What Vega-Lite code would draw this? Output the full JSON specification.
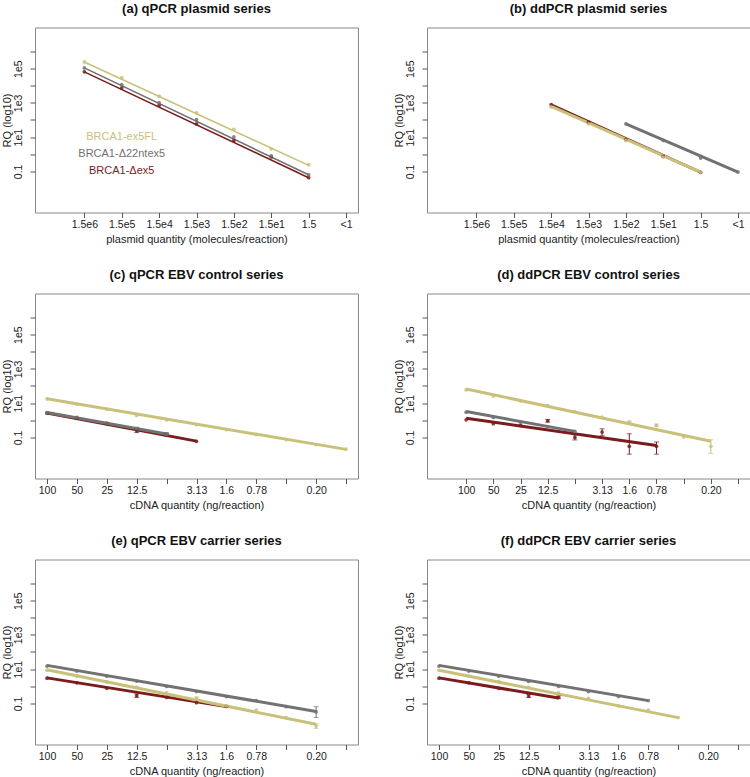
{
"$schema": "https://vega.github.io/schema/vega-lite/v6.json",
"padding": {"left": 0, "top": 1.5, "right": 0, "bottom": 0},
"background": "white",
"spacing": {"row": 22, "column": 33},
"columns": 2,
"datasets": {
"pts": [
{"p":"a","s":"k1","x":1,"y":64600},{"p":"a","s":"k1","x":2,"y":7410},{"p":"a","s":"k1","x":3,"y":724},{"p":"a","s":"k1","x":4,"y":58.9},{"p":"a","s":"k1","x":5,"y":6.46},{"p":"a","s":"k1","x":6,"y":0.692},{"p":"a","s":"k1","x":7,"y":0.0427},
{"p":"a","s":"k2","x":1,"y":110000},{"p":"a","s":"k2","x":2,"y":11500},{"p":"a","s":"k2","x":3,"y":1020},{"p":"a","s":"k2","x":4,"y":105},{"p":"a","s":"k2","x":5,"y":10.2},{"p":"a","s":"k2","x":6,"y":0.794},{"p":"a","s":"k2","x":7,"y":0.063},
{"p":"a","s":"k3","x":1,"y":245000},{"p":"a","s":"k3","x":2,"y":29500},{"p":"a","s":"k3","x":3,"y":2510},{"p":"a","s":"k3","x":4,"y":257},{"p":"a","s":"k3","x":5,"y":28.8},{"p":"a","s":"k3","x":6,"y":2.09},{"p":"a","s":"k3","x":7,"y":0.245},
{"p":"b","s":"k1","x":3,"y":780},{"p":"b","s":"k1","x":4,"y":75},{"p":"b","s":"k1","x":5,"y":7.2},{"p":"b","s":"k1","x":6,"y":0.75},{"p":"b","s":"k1","x":7,"y":0.089},
{"p":"b","s":"k2","x":5,"y":60.3},{"p":"b","s":"k2","x":6,"y":6.46},{"p":"b","s":"k2","x":7,"y":0.603},{"p":"b","s":"k2","x":8,"y":0.0912},
{"p":"b","s":"k3","x":3,"y":575},{"p":"b","s":"k3","x":4,"y":60.3},{"p":"b","s":"k3","x":5,"y":6.46},{"p":"b","s":"k3","x":6,"y":0.692},{"p":"b","s":"k3","x":7,"y":0.0912},
{"p":"c","s":"k1","x":1,"y":2.57},{"p":"c","s":"k1","x":2,"y":1.32},{"p":"c","s":"k1","x":3,"y":0.631},{"p":"c","s":"k1","x":4,"y":0.245},{"p":"c","s":"k1","x":5,"y":0.145},{"p":"c","s":"k1","x":6,"y":0.0589},
{"p":"c","s":"k2","x":1,"y":2.82},{"p":"c","s":"k2","x":2,"y":1.45},{"p":"c","s":"k2","x":3,"y":0.676},{"p":"c","s":"k2","x":4,"y":0.324},{"p":"c","s":"k2","x":5,"y":0.155},
{"p":"c","s":"k3","x":1,"y":17.8},{"p":"c","s":"k3","x":2,"y":8.71},{"p":"c","s":"k3","x":3,"y":4.47},{"p":"c","s":"k3","x":4,"y":1.91},{"p":"c","s":"k3","x":5,"y":1.07},{"p":"c","s":"k3","x":6,"y":0.55},{"p":"c","s":"k3","x":7,"y":0.282},{"p":"c","s":"k3","x":8,"y":0.145},{"p":"c","s":"k3","x":9,"y":0.0741},{"p":"c","s":"k3","x":10,"y":0.038},{"p":"c","s":"k3","x":11,"y":0.0209},
{"p":"d","s":"k1","x":1,"y":1.07},{"p":"d","s":"k1","x":2,"y":0.631},{"p":"d","s":"k1","x":3,"y":0.501},{"p":"d","s":"k1","x":4,"y":0.933},{"p":"d","s":"k1","x":5,"y":0.1},{"p":"d","s":"k1","x":6,"y":0.204},{"p":"d","s":"k1","x":7,"y":0.0302},{"p":"d","s":"k1","x":8,"y":0.0302},
{"p":"d","s":"k2","x":1,"y":2.95},{"p":"d","s":"k2","x":2,"y":1.45},{"p":"d","s":"k2","x":3,"y":0.776},{"p":"d","s":"k2","x":4,"y":0.417},{"p":"d","s":"k2","x":5,"y":0.224},
{"p":"d","s":"k3","x":1,"y":58.9},{"p":"d","s":"k3","x":2,"y":26.3},{"p":"d","s":"k3","x":3,"y":13.5},{"p":"d","s":"k3","x":4,"y":7.24},{"p":"d","s":"k3","x":5,"y":3.24},{"p":"d","s":"k3","x":6,"y":1.51},{"p":"d","s":"k3","x":7,"y":0.776},{"p":"d","s":"k3","x":8,"y":0.501},{"p":"d","s":"k3","x":9,"y":0.105},{"p":"d","s":"k3","x":10,"y":0.0302},
{"p":"e","s":"k1","x":1,"y":2.95},{"p":"e","s":"k1","x":2,"y":1.58},{"p":"e","s":"k1","x":3,"y":0.759},{"p":"e","s":"k1","x":4,"y":0.282},{"p":"e","s":"k1","x":5,"y":0.224},{"p":"e","s":"k1","x":6,"y":0.11},{"p":"e","s":"k1","x":7,"y":0.0661},
{"p":"e","s":"k2","x":1,"y":15.1},{"p":"e","s":"k2","x":2,"y":7.76},{"p":"e","s":"k2","x":3,"y":3.89},{"p":"e","s":"k2","x":4,"y":2.0},{"p":"e","s":"k2","x":5,"y":0.977},{"p":"e","s":"k2","x":6,"y":0.49},{"p":"e","s":"k2","x":7,"y":0.251},{"p":"e","s":"k2","x":8,"y":0.145},{"p":"e","s":"k2","x":9,"y":0.0646},{"p":"e","s":"k2","x":10,"y":0.0324},
{"p":"e","s":"k3","x":1,"y":8.51},{"p":"e","s":"k3","x":2,"y":3.89},{"p":"e","s":"k3","x":3,"y":1.78},{"p":"e","s":"k3","x":4,"y":0.891},{"p":"e","s":"k3","x":5,"y":0.407},{"p":"e","s":"k3","x":6,"y":0.195},{"p":"e","s":"k3","x":7,"y":0.0724},{"p":"e","s":"k3","x":8,"y":0.0407},{"p":"e","s":"k3","x":9,"y":0.0148},{"p":"e","s":"k3","x":10,"y":0.00479},
{"p":"f","s":"k1","x":1,"y":2.95},{"p":"f","s":"k1","x":2,"y":1.58},{"p":"f","s":"k1","x":3,"y":0.759},{"p":"f","s":"k1","x":4,"y":0.269},{"p":"f","s":"k1","x":5,"y":0.224},
{"p":"f","s":"k2","x":1,"y":15.1},{"p":"f","s":"k2","x":2,"y":7.76},{"p":"f","s":"k2","x":3,"y":3.89},{"p":"f","s":"k2","x":4,"y":1.91},{"p":"f","s":"k2","x":5,"y":0.977},{"p":"f","s":"k2","x":6,"y":0.49},{"p":"f","s":"k2","x":7,"y":0.251},{"p":"f","s":"k2","x":8,"y":0.145},
{"p":"f","s":"k3","x":1,"y":8.51},{"p":"f","s":"k3","x":2,"y":3.89},{"p":"f","s":"k3","x":3,"y":1.91},{"p":"f","s":"k3","x":4,"y":0.871},{"p":"f","s":"k3","x":5,"y":0.407},{"p":"f","s":"k3","x":6,"y":0.195},{"p":"f","s":"k3","x":7,"y":0.0724},{"p":"f","s":"k3","x":8,"y":0.0407},{"p":"f","s":"k3","x":9,"y":0.0148}
],
"fit": [
{"p":"a","s":"k1","x":1,"y":64600},{"p":"a","s":"k1","x":7,"y":0.0427},
{"p":"a","s":"k2","x":1,"y":110000},{"p":"a","s":"k2","x":7,"y":0.063},
{"p":"a","s":"k3","x":1,"y":245000},{"p":"a","s":"k3","x":7,"y":0.224},
{"p":"b","s":"k1","x":3,"y":760},{"p":"b","s":"k1","x":7,"y":0.0891},
{"p":"b","s":"k2","x":5,"y":60.3},{"p":"b","s":"k2","x":8,"y":0.0912},
{"p":"b","s":"k3","x":3,"y":631},{"p":"b","s":"k3","x":7,"y":0.0912},
{"p":"c","s":"k1","x":1,"y":2.63},{"p":"c","s":"k1","x":6,"y":0.0603},
{"p":"c","s":"k2","x":1,"y":2.82},{"p":"c","s":"k2","x":5,"y":0.158},
{"p":"c","s":"k3","x":1,"y":17.8},{"p":"c","s":"k3","x":11,"y":0.02},
{"p":"d","s":"k1","x":1,"y":1.32},{"p":"d","s":"k1","x":8,"y":0.0339},
{"p":"d","s":"k2","x":1,"y":3.24},{"p":"d","s":"k2","x":5,"y":0.224},
{"p":"d","s":"k3","x":1,"y":67.6},{"p":"d","s":"k3","x":10,"y":0.0589},
{"p":"e","s":"k1","x":1,"y":3.09},{"p":"e","s":"k1","x":7,"y":0.0646},
{"p":"e","s":"k2","x":1,"y":16.6},{"p":"e","s":"k2","x":10,"y":0.034},
{"p":"e","s":"k3","x":1,"y":9.12},{"p":"e","s":"k3","x":10,"y":0.00603},
{"p":"f","s":"k1","x":1,"y":3.09},{"p":"f","s":"k1","x":5,"y":0.204},
{"p":"f","s":"k2","x":1,"y":16.6},{"p":"f","s":"k2","x":8,"y":0.145},
{"p":"f","s":"k3","x":1,"y":8.51},{"p":"f","s":"k3","x":9,"y":0.0148}
],
"err": [
{"p":"c","s":"k1","x":4,"y":0.19,"y2":0.31},{"p":"c","s":"k1","x":5,"y":0.12,"y2":0.17},{"p":"c","s":"k2","x":4,"y":0.27,"y2":0.39},{"p":"c","s":"k2","x":5,"y":0.13,"y2":0.19},
{"p":"d","s":"k1","x":4,"y":0.78,"y2":1.12},{"p":"d","s":"k1","x":5,"y":0.0708,"y2":0.141},{"p":"d","s":"k1","x":6,"y":0.126,"y2":0.316},{"p":"d","s":"k1","x":7,"y":0.0105,"y2":0.162},{"p":"d","s":"k1","x":8,"y":0.0105,"y2":0.0537},
{"p":"d","s":"k3","x":7,"y":0.63,"y2":0.89},{"p":"d","s":"k3","x":8,"y":0.42,"y2":0.6},{"p":"d","s":"k3","x":10,"y":0.0117,"y2":0.0724},
{"p":"e","s":"k1","x":4,"y":0.224,"y2":0.355},{"p":"e","s":"k2","x":10,"y":0.0151,"y2":0.0646},{"p":"e","s":"k3","x":6,"y":0.16,"y2":0.24},{"p":"e","s":"k3","x":10,"y":0.0035,"y2":0.0063},
{"p":"f","s":"k1","x":4,"y":0.22,"y2":0.33},{"p":"f","s":"k1","x":5,"y":0.19,"y2":0.27}
],
"leg": [
{"p":"a","s":"k3","x":2,"y":10,"label":"BRCA1-ex5FL"},
{"p":"a","s":"k2","x":2,"y":1,"label":"BRCA1-Δ22ntex5"},
{"p":"a","s":"k1","x":2,"y":0.1,"label":"BRCA1-Δex5"}
]
},
"concat": [
{
"title": "(a) qPCR plasmid series", "width": 323, "height": 185,
"encoding": {
"x": {"field":"x","type":"quantitative","scale":{"domain":[-0.32,8.32],"nice":false,"zero":false},"axis":{"values":[1,2,3,4,5,6,7,8],"labelExpr":"['1.5e6','1.5e5','1.5e4','1.5e3','1.5e2','1.5e1','1.5','<1'][datum.value-1]","title":"plasmid quantity (molecules/reaction)"}},
"y": {"field":"y","type":"quantitative","title":"RQ (log10)","scale":{"type":"log","domain":[0.000398,25118864],"nice":false},"axis":{"values":[0.1,1,10,100,1000,10000,100000,1000000],"labelExpr":"datum.value==0.1?'0.1':datum.value==10?'1e1':datum.value==1000?'1e3':datum.value==100000?'1e5':''"}},
"color": {"field":"s","type":"nominal","scale":{"domain":["k1","k2","k3"],"range":["#7a1c1c","#727272","#c9c17b"]},"legend":null}
},
"layer": [
{"data":{"name":"fit"},"transform":[{"filter":"datum.p=='a'"}],"mark":{"type":"line","strokeWidth":1.6}},
{"data":{"name":"pts"},"transform":[{"filter":"datum.p=='a'"}],"mark":{"type":"point","filled":true,"size":14,"opacity":0.85}},
{"data":{"name":"leg"},"transform":[{"filter":"datum.p=='a'"}],"mark":{"type":"text","fontSize":11,"align":"center","baseline":"middle","font":"Liberation Sans"},"encoding":{"text":{"field":"label"}}}
]
},
{
"title": "(b) ddPCR plasmid series", "width": 323, "height": 185,
"encoding": {
"x": {"field":"x","type":"quantitative","scale":{"domain":[-0.32,8.32],"nice":false,"zero":false},"axis":{"values":[1,2,3,4,5,6,7,8],"labelExpr":"['1.5e6','1.5e5','1.5e4','1.5e3','1.5e2','1.5e1','1.5','<1'][datum.value-1]","title":"plasmid quantity (molecules/reaction)"}},
"y": {"field":"y","type":"quantitative","title":"RQ (log10)","scale":{"type":"log","domain":[0.000398,25118864],"nice":false},"axis":{"values":[0.1,1,10,100,1000,10000,100000,1000000],"labelExpr":"datum.value==0.1?'0.1':datum.value==10?'1e1':datum.value==1000?'1e3':datum.value==100000?'1e5':''"}},
"color": {"field":"s","type":"nominal","legend":null}
},
"layer": [
{"data":{"name":"fit"},"transform":[{"filter":"datum.p=='b'"}],"mark":{"type":"line","strokeWidth":3}},
{"data":{"name":"pts"},"transform":[{"filter":"datum.p=='b'"}],"mark":{"type":"point","filled":true,"size":14,"opacity":0.85}}
]
},
{
"title": "(c) qPCR EBV control series", "width": 323, "height": 185,
"encoding": {
"x": {"field":"x","type":"quantitative","scale":{"domain":[0.6,11.4],"nice":false,"zero":false},"axis":{"values":[1,2,3,4,5,6,7,8,9,10,11],"labelExpr":"['100','50','25','12.5','','3.13','1.6','0.78','','0.20',''][datum.value-1]","title":"cDNA quantity (ng/reaction)"}},
"y": {"field":"y","type":"quantitative","title":"RQ (log10)","scale":{"type":"log","domain":[0.000398,25118864],"nice":false},"axis":{"values":[0.1,1,10,100,1000,10000,100000,1000000],"labelExpr":"datum.value==0.1?'0.1':datum.value==10?'1e1':datum.value==1000?'1e3':datum.value==100000?'1e5':''"}},
"color": {"field":"s","type":"nominal","legend":null}
},
"layer": [
{"data":{"name":"fit"},"transform":[{"filter":"datum.p=='c'"}],"mark":{"type":"line","strokeWidth":3}},
{"data":{"name":"err"},"transform":[{"filter":"datum.p=='c'"}],"mark":{"type":"errorbar","ticks":true},"encoding":{"y2":{"field":"y2"}}},
{"data":{"name":"pts"},"transform":[{"filter":"datum.p=='c'"}],"mark":{"type":"point","filled":true,"size":14,"opacity":0.85}}
]
},
{
"title": "(d) ddPCR EBV control series", "width": 323, "height": 185,
"encoding": {
"x": {"field":"x","type":"quantitative","scale":{"domain":[-0.44,11.44],"nice":false,"zero":false},"axis":{"values":[1,2,3,4,5,6,7,8,9,10,11],"labelExpr":"['100','50','25','12.5','','3.13','1.6','0.78','','0.20',''][datum.value-1]","title":"cDNA quantity (ng/reaction)"}},
"y": {"field":"y","type":"quantitative","title":"RQ (log10)","scale":{"type":"log","domain":[0.000398,25118864],"nice":false},"axis":{"values":[0.1,1,10,100,1000,10000,100000,1000000],"labelExpr":"datum.value==0.1?'0.1':datum.value==10?'1e1':datum.value==1000?'1e3':datum.value==100000?'1e5':''"}},
"color": {"field":"s","type":"nominal","legend":null}
},
"layer": [
{"data":{"name":"fit"},"transform":[{"filter":"datum.p=='d'"}],"mark":{"type":"line","strokeWidth":3}},
{"data":{"name":"err"},"transform":[{"filter":"datum.p=='d'"}],"mark":{"type":"errorbar","ticks":true},"encoding":{"y2":{"field":"y2"}}},
{"data":{"name":"pts"},"transform":[{"filter":"datum.p=='d'"}],"mark":{"type":"point","filled":true,"size":14,"opacity":0.85}}
]
},
{
"title": "(e) qPCR EBV carrier series", "width": 323, "height": 185,
"encoding": {
"x": {"field":"x","type":"quantitative","scale":{"domain":[0.6,11.4],"nice":false,"zero":false},"axis":{"values":[1,2,3,4,5,6,7,8,9,10,11],"labelExpr":"['100','50','25','12.5','','3.13','1.6','0.78','','0.20',''][datum.value-1]","title":"cDNA quantity (ng/reaction)"}},
"y": {"field":"y","type":"quantitative","title":"RQ (log10)","scale":{"type":"log","domain":[0.000398,25118864],"nice":false},"axis":{"values":[0.1,1,10,100,1000,10000,100000,1000000],"labelExpr":"datum.value==0.1?'0.1':datum.value==10?'1e1':datum.value==1000?'1e3':datum.value==100000?'1e5':''"}},
"color": {"field":"s","type":"nominal","legend":null}
},
"layer": [
{"data":{"name":"fit"},"transform":[{"filter":"datum.p=='e'"}],"mark":{"type":"line","strokeWidth":3}},
{"data":{"name":"err"},"transform":[{"filter":"datum.p=='e'"}],"mark":{"type":"errorbar","ticks":true},"encoding":{"y2":{"field":"y2"}}},
{"data":{"name":"pts"},"transform":[{"filter":"datum.p=='e'"}],"mark":{"type":"point","filled":true,"size":14,"opacity":0.85}}
]
},
{
"title": "(f) ddPCR EBV carrier series", "width": 323, "height": 185,
"encoding": {
"x": {"field":"x","type":"quantitative","scale":{"domain":[0.6,11.4],"nice":false,"zero":false},"axis":{"values":[1,2,3,4,5,6,7,8,9,10,11],"labelExpr":"['100','50','25','12.5','','3.13','1.6','0.78','','0.20',''][datum.value-1]","title":"cDNA quantity (ng/reaction)"}},
"y": {"field":"y","type":"quantitative","title":"RQ (log10)","scale":{"type":"log","domain":[0.000398,25118864],"nice":false},"axis":{"values":[0.1,1,10,100,1000,10000,100000,1000000],"labelExpr":"datum.value==0.1?'0.1':datum.value==10?'1e1':datum.value==1000?'1e3':datum.value==100000?'1e5':''"}},
"color": {"field":"s","type":"nominal","legend":null}
},
"layer": [
{"data":{"name":"fit"},"transform":[{"filter":"datum.p=='f'"}],"mark":{"type":"line","strokeWidth":3}},
{"data":{"name":"err"},"transform":[{"filter":"datum.p=='f'"}],"mark":{"type":"errorbar","ticks":true},"encoding":{"y2":{"field":"y2"}}},
{"data":{"name":"pts"},"transform":[{"filter":"datum.p=='f'"}],"mark":{"type":"point","filled":true,"size":14,"opacity":0.85}}
]
}
],
"config": {
"font": "Liberation Sans",
"view": {"stroke": "#888888", "strokeWidth": 1},
"axis": {"grid": false, "domain": false, "tickColor": "#555555", "tickSize": 5, "labelFont": "Liberation Sans", "labelFontSize": 10.5, "labelColor": "#222222", "titleFont": "Liberation Sans", "titleFontSize": 11, "titleFontWeight": "normal", "titleColor": "#222222", "labelOverlap": false, "labelFlush": false},
"axisX": {"labelPadding": 2, "titleY": 30, "titleBaseline": "alphabetic"},
"axisY": {"labelAngle": -90, "labelAlign": "center", "labelBaseline": "alphabetic", "labelPadding": 9, "titleX": -25, "titleY": 92.5, "titleAngle": -90, "titleAlign": "center", "titleBaseline": "alphabetic"},
"title": {"font": "Liberation Sans", "fontSize": 13, "fontWeight": "bold", "color": "#111111", "offset": 12, "baseline": "alphabetic", "frame": "group", "anchor": "middle"}
}
}
